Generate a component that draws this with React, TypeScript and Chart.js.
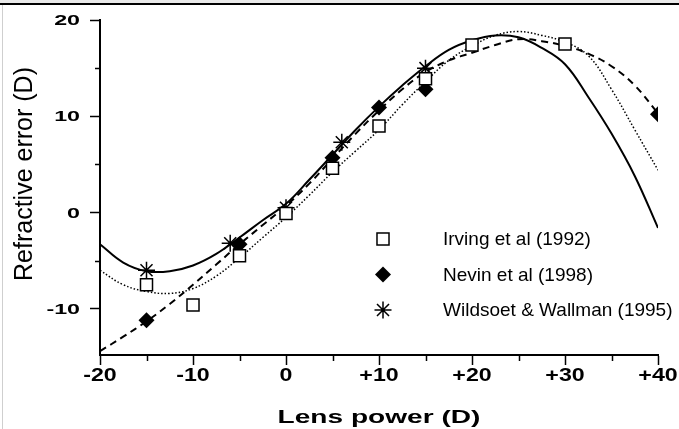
import React, { useEffect, useRef } from 'react';
import { Chart, registerables } from 'chart.js';

Chart.register(...registerables);

// Fitted curves, sampled every 2.5 D
const curveX = [-20, -17.5, -15, -12.5, -10, -7.5, -5, -2.5, 0, 2.5, 5, 7.5, 10, 12.5, 15, 17.5, 20, 22.5, 25, 27.5, 30, 32.5, 35, 37.5, 40];
const wildsoetFit = [-3.3, -5.2, -6.1, -6.1, -5.5, -4.3, -2.6, -0.8, 0.9, 3.4, 6.0, 8.6, 11.0, 13.2, 15.2, 16.9, 17.9, 18.4, 18.2, 17.1, 15.4, 12.0, 8.2, 3.8, -1.6];
const irvingFit = [-6.0, -7.5, -8.2, -8.4, -7.9, -6.6, -4.7, -2.6, -0.5, 1.8, 4.2, 6.4, 8.6, 11.2, 13.6, 15.8, 17.3, 18.4, 18.8, 18.4, 17.7, 16.3, 12.8, 8.6, 4.4];
const nevinFit = [-14.4, -12.9, -11.3, -9.5, -7.5, -5.4, -3.3, -1.3, 0.7, 3.0, 5.6, 8.2, 10.6, 12.8, 14.6, 15.8, 16.6, 17.4, 18.0, 17.8, 17.3, 16.5, 15.2, 13.2, 10.3];

// Measured data
const irvingX = [-15, -10, -5, 0, 5, 10, 15, 20, 30];
const irvingY = [-7.5, -9.6, -4.5, -0.1, 4.6, 9.0, 13.9, 17.4, 17.5];
const nevinX = [-15, -5, 5, 10, 15, 40];
const nevinY = [-11.2, -3.3, 5.7, 10.9, 12.8, 10.2];
const wildsoetX = [-15, -6, 0, 6, 15];
const wildsoetY = [-6.0, -3.2, 0.5, 7.3, 15.0];

// Axes
const xTickValues = [-20, -10, 0, 10, 20, 30, 40];
const xTickLabels = ['-20', '-10', '0', '+10', '+20', '+30', '+40'];
const xMinorTicks = [-15, -5, 5, 15, 25, 35];
const yTickValues = [20, 10, 0, -10];
const yTickLabels = ['20', '10', '0', '-10'];
const yMinorTicks = [15, 5, -5];
const legendLabels = ['Irving et al (1992)', 'Nevin et al (1998)', 'Wildsoet & Wallman (1995)'];
const xTitle = 'Lens power (D)';
const yTitle = 'Refractive error (D)';

const FONT = '"Liberation Sans", Arial, Helvetica, sans-serif';

function pts(xs: number[], ys: number[]) {
  return xs.map((x, i) => ({ x, y: ys[i] }));
}

function stretchedText(ctx: CanvasRenderingContext2D, text: string, x: number, y: number, font: string, sx: number, align: CanvasTextAlign, baseline: CanvasTextBaseline) {
  ctx.save();
  ctx.font = font;
  ctx.fillStyle = '#000';
  ctx.textAlign = align;
  ctx.textBaseline = baseline;
  ctx.translate(x, y);
  ctx.scale(sx, 1);
  ctx.fillText(text, 0, 0);
  ctx.restore();
}

function drawMarker(ctx: CanvasRenderingContext2D, kind: number, x: number, y: number) {
  ctx.save();
  ctx.strokeStyle = '#000';
  ctx.lineWidth = 1.5;
  if (kind === 0) {
    const s = 8.5 * Math.SQRT1_2;
    ctx.fillStyle = '#fff';
    ctx.fillRect(x - s, y - s, 2 * s, 2 * s);
    ctx.strokeRect(x - s, y - s, 2 * s, 2 * s);
  } else if (kind === 1) {
    const r = 8;
    ctx.fillStyle = '#000';
    ctx.beginPath();
    ctx.moveTo(x, y - r);
    ctx.lineTo(x + r, y);
    ctx.lineTo(x, y + r);
    ctx.lineTo(x - r, y);
    ctx.closePath();
    ctx.fill();
  } else {
    const r = 8.5;
    const d = r * Math.SQRT1_2;
    ctx.beginPath();
    ctx.moveTo(x - r, y); ctx.lineTo(x + r, y);
    ctx.moveTo(x, y - r); ctx.lineTo(x, y + r);
    ctx.moveTo(x - d, y - d); ctx.lineTo(x + d, y + d);
    ctx.moveTo(x - d, y + d); ctx.lineTo(x + d, y - d);
    ctx.stroke();
  }
  ctx.restore();
}

const decorPlugin = {
  id: 'decor',
  beforeDraw(chart: any) {
    const ctx = chart.ctx as CanvasRenderingContext2D;
    ctx.save();
    ctx.fillStyle = '#ffffff';
    ctx.fillRect(0, 0, chart.width, chart.height);
    ctx.fillStyle = '#e9e9e9';
    ctx.fillRect(0, 0, chart.width, 3);
    ctx.fillStyle = '#000';
    ctx.fillRect(0, 3, chart.width, 2);
    ctx.fillStyle = '#cfcfcf';
    ctx.fillRect(2, 5, 1, chart.height - 5);
    ctx.restore();
  },
  afterDraw(chart: any) {
    const ctx = chart.ctx as CanvasRenderingContext2D;
    const xs = chart.scales.x;
    const ys = chart.scales.y;
    const area = chart.chartArea;

    // minor ticks
    ctx.save();
    ctx.strokeStyle = '#000';
    ctx.lineWidth = 1.5;
    ctx.beginPath();
    xMinorTicks.forEach((v) => {
      const px = Math.round(xs.getPixelForValue(v)) + 0.5;
      ctx.moveTo(px, area.bottom);
      ctx.lineTo(px, area.bottom + 6);
    });
    yMinorTicks.forEach((v) => {
      const py = Math.round(ys.getPixelForValue(v)) + 0.5;
      ctx.moveTo(area.left, py);
      ctx.lineTo(area.left - 5, py);
    });
    ctx.stroke();
    ctx.restore();

    // tick labels
    xTickValues.forEach((v, i) => {
      stretchedText(ctx, xTickLabels[i], xs.getPixelForValue(v), area.bottom + 21, `bold 19px ${FONT}`, 1.22, 'center', 'middle');
    });
    yTickValues.forEach((v, i) => {
      stretchedText(ctx, yTickLabels[i], area.left - 20, ys.getPixelForValue(v) + 1, `bold 15px ${FONT}`, 1.55, 'right', 'middle');
    });

    // axis titles
    stretchedText(ctx, xTitle, (area.left + area.right) / 2, area.bottom + 68, `bold 18px ${FONT}`, 1.56, 'center', 'alphabetic');
    ctx.save();
    ctx.translate(32, area.top + 154);
    ctx.rotate(-Math.PI / 2);
    ctx.font = `25px ${FONT}`;
    ctx.fillStyle = '#000';
    ctx.textAlign = 'center';
    ctx.textBaseline = 'alphabetic';
    ctx.fillText(yTitle, 0, 0);
    ctx.restore();

    // legend
    legendLabels.forEach((lab, i) => {
      const y = area.top + 219 + i * 35.5;
      drawMarker(ctx, i, area.left + 283, y);
      stretchedText(ctx, lab, area.left + 343, y + 1, `19px ${FONT}`, 1.0, 'left', 'middle');
    });
  },
};

export default function App() {
  const ref = useRef<HTMLCanvasElement>(null);

  useEffect(() => {
    if (!ref.current) return;
    const chart = new Chart(ref.current, {
      type: 'scatter',
      data: {
        datasets: [
          {
            label: legendLabels[0],
            data: pts(irvingX, irvingY),
            pointStyle: 'rect',
            pointRadius: 8.5,
            pointBackgroundColor: '#fff',
            pointBorderColor: '#000',
            pointBorderWidth: 1.5,
            showLine: false,
          },
          {
            label: legendLabels[1],
            data: pts(nevinX, nevinY),
            pointStyle: 'rectRot',
            pointRadius: 8,
            pointBackgroundColor: '#000',
            pointBorderColor: '#000',
            pointBorderWidth: 0,
            showLine: false,
          },
          {
            label: legendLabels[2],
            data: pts(wildsoetX, wildsoetY),
            pointStyle: 'star',
            pointRadius: 8.5,
            pointBorderColor: '#000',
            pointBorderWidth: 1.5,
            showLine: false,
          },
          {
            label: 'Wildsoet fit',
            data: pts(curveX, wildsoetFit),
            showLine: true,
            borderColor: '#000',
            borderWidth: 2,
            pointRadius: 0,
            tension: 0.4,
          },
          {
            label: 'Irving fit',
            data: pts(curveX, irvingFit),
            showLine: true,
            borderColor: '#000',
            borderWidth: 1.5,
            borderDash: [1.5, 2],
            pointRadius: 0,
            tension: 0.4,
          },
          {
            label: 'Nevin fit',
            data: pts(curveX, nevinFit),
            showLine: true,
            borderColor: '#000',
            borderWidth: 2,
            borderDash: [7, 5],
            pointRadius: 0,
            tension: 0.4,
          },
        ],
      } as any,
      options: {
        animation: false,
        responsive: false,
        devicePixelRatio: 1,
        layout: { padding: { left: 0, right: 21, top: 20, bottom: 0 } },
        plugins: { legend: { display: false }, tooltip: { enabled: false } },
        scales: {
          x: {
            type: 'linear',
            min: -20,
            max: 40,
            afterFit: (s: any) => { s.height = 74; },
            ticks: { stepSize: 10, display: false },
            grid: { drawOnChartArea: false, drawTicks: true, tickLength: 10, tickWidth: 1.5, tickColor: '#000' },
            border: { display: true, color: '#000', width: 2 },
          },
          y: {
            type: 'linear',
            min: -14.8,
            max: 20,
            afterFit: (s: any) => { s.width = 100; },
            ticks: { stepSize: 10, display: false, includeBounds: false },
            grid: { drawOnChartArea: false, drawTicks: true, tickLength: 10, tickWidth: 1.5, tickColor: '#000' },
            border: { display: true, color: '#000', width: 2 },
          },
        },
      } as any,
      plugins: [decorPlugin],
    });
    return () => chart.destroy();
  }, []);

  return (
    <div style={{ position: 'absolute', left: 0, top: 0, width: 679, height: 429 }}>
      <canvas ref={ref} width={679} height={429} style={{ width: 679, height: 429, display: 'block' }} />
    </div>
  );
}
